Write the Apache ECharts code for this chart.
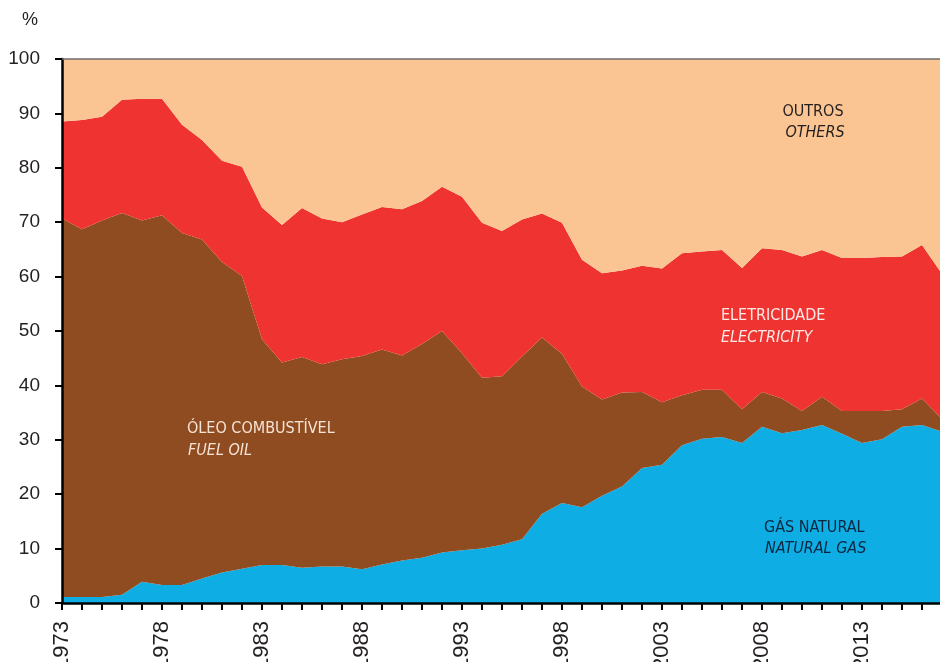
<!DOCTYPE html>
<html>
<head>
  <meta charset="utf-8">
  <title>Consumo</title>
  <script src="https://cdn.jsdelivr.net/npm/echarts@6/dist/echarts.min.js"></script>
  <style>
    html, body { margin: 0; padding: 0; background: #fff; }
    #chart { width: 940px; height: 662px; }
  </style>
</head>
<body>
  <div id="chart"></div>
  <script>
    // anos 1973-2017
    var years = [];
    for (var y = 1973; y <= 2017; y++) years.push(String(y));

    // gás natural (%)
    var gas = [1.1, 1.1, 1.1, 1.5, 3.9, 3.3, 3.3, 4.5, 5.6, 6.3,
      7.0, 7.0, 6.5, 6.7, 6.7, 6.2, 7.1, 7.8, 8.3, 9.3,
      9.7, 10.0, 10.7, 11.7, 16.4, 18.4, 17.6, 19.7, 21.4, 24.8,
      25.4, 29.0, 30.2, 30.5, 29.4, 32.4, 31.2, 31.8, 32.7, 31.1,
      29.4, 30.1, 32.4, 32.7, 31.5];
    // óleo combustível (%)
    var fuelOil = [69.6, 67.6, 69.2, 70.2, 66.4, 68.0, 64.7, 62.3, 57.1, 53.8,
      41.5, 37.2, 38.7, 37.2, 38.1, 39.2, 39.5, 37.7, 39.3, 40.7,
      36.2, 31.4, 31.0, 33.6, 32.4, 27.4, 22.2, 17.7, 17.3, 14.0,
      11.5, 9.2, 9.0, 8.7, 6.2, 6.4, 6.4, 3.5, 5.2, 4.2,
      5.9, 5.2, 3.2, 4.9, 2.3];
    // eletricidade (%)
    var electricity = [17.8, 20.1, 19.1, 20.8, 22.4, 21.4, 19.9, 18.3, 18.6, 20.1,
      24.2, 25.3, 27.4, 26.8, 25.2, 26.0, 26.2, 26.9, 26.3, 26.5,
      28.8, 28.5, 26.7, 25.2, 22.8, 24.1, 23.3, 23.2, 22.4, 23.2,
      24.6, 26.1, 25.4, 25.7, 26.0, 26.4, 27.3, 28.4, 27.0, 28.1,
      28.1, 28.3, 28.1, 28.2, 26.7];
    // outros (%)
    var others = [11.5, 11.2, 10.6, 7.5, 7.3, 7.3, 12.1, 14.9, 18.7, 19.8,
      27.3, 30.5, 27.4, 29.3, 30.0, 28.6, 27.2, 27.6, 26.1, 23.5,
      25.3, 30.1, 31.6, 29.5, 28.4, 30.1, 36.9, 39.4, 38.9, 38.0,
      38.5, 35.7, 35.4, 35.1, 38.4, 34.8, 35.1, 36.3, 35.1, 36.6,
      36.6, 36.4, 36.3, 34.2, 39.5];

    var labelFont = '"Liberation Sans Narrow", "DejaVu Sans Condensed", sans-serif';

    function area(name, data, color) {
      return {
        name: name,
        type: 'line',
        stack: 'total',
        data: data,
        symbol: 'none',
        lineStyle: { width: 0 },
        areaStyle: { color: color, opacity: 1 },
        itemStyle: { color: color },
        z: 2
      };
    }

    function note(x, y, text, color, italic, align) {
      return {
        type: 'text', x: x, y: y, z: 100,
        style: {
          text: text, fontSize: 16, fill: color, fontFamily: labelFont,
          fontStyle: italic ? 'italic' : 'normal', align: align || 'left'
        }
      };
    }

    var chart = echarts.init(document.getElementById('chart'));
    var option = {
      animation: false,
      grid: { left: 62, right: -2, top: 59, bottom: 59, containLabel: false, outerBoundsMode: 'none' },
      xAxis: [
        {
          type: 'category',
          data: years,
          boundaryGap: false,
          axisLine: { lineStyle: { color: '#000', width: 2.5 } },
          axisTick: { show: true, interval: 0, length: 7, lineStyle: { color: '#000', width: 2 } },
          axisLabel: {
            interval: 4,
            rotate: 90,
            color: '#231f20',
            fontSize: 22,
            fontFamily: 'Liberation Sans',
            margin: 18
          },
          splitLine: { show: false },
          z: 5
        },
        {
          type: 'category',
          position: 'top',
          data: years,
          boundaryGap: false,
          axisLine: { lineStyle: { color: '#6e6e6e', width: 1.5 } },
          axisTick: { show: false },
          axisLabel: { show: false },
          z: 5
        }
      ],
      yAxis: {
        type: 'value',
        min: 0,
        max: 100,
        interval: 10,
        axisLine: { show: true, lineStyle: { color: '#000', width: 2.5 } },
        axisTick: { show: true, length: 7, lineStyle: { color: '#000', width: 2 } },
        axisLabel: {
          color: '#231f20',
          fontSize: 19,
          fontFamily: 'Liberation Sans',
          margin: 22
        },
        splitLine: { show: false },
        z: 5
      },
      series: [
        area('Gás natural', gas, '#0eade3'),
        area('Óleo combustível', fuelOil, '#8f4c21'),
        area('Eletricidade', electricity, '#ee3330'),
        area('Outros', others, '#fbc593')
      ],
      graphic: [
        { type: 'text', left: 22, top: 11, z: 100, style: { text: '%', fontSize: 18, fill: '#231f20', fontFamily: 'Liberation Sans' } },
        note(813, 104, 'OUTROS', '#231f20', false, 'center'),
        note(815, 125, 'OTHERS', '#231f20', true, 'center'),
        note(721, 308, 'ELETRICIDADE', '#fde9e6', false),
        note(721, 330, 'ELECTRICITY', '#fde9e6', true),
        note(187, 421, 'ÓLEO COMBUSTÍVEL', '#f6e3d6', false),
        note(188, 443, 'FUEL OIL', '#f6e3d6', true),
        note(764, 520, 'GÁS NATURAL', '#0b2740', false),
        note(765, 541, 'NATURAL GAS', '#0b2740', true)
      ]
    };
    chart.setOption(option);
  </script>
</body>
</html>
